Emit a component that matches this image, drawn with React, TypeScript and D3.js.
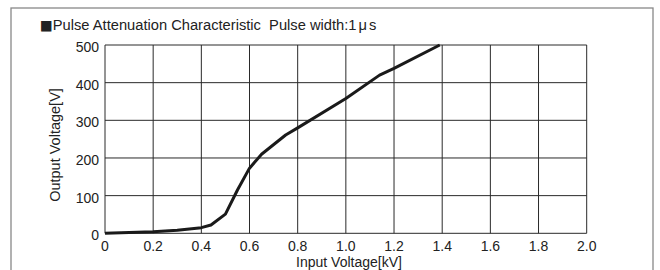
import React from "react";
import * as d3 from "d3";

const inputKV = [0, 0.2, 0.3, 0.4, 0.44, 0.5, 0.55, 0.6, 0.65, 0.75, 0.8, 1.0, 1.14, 1.2, 1.39];
const outputV = [0, 4, 8, 15, 22, 51, 115, 173, 210, 261, 280, 358, 420, 438, 500];
const xTicks = [0, 0.2, 0.4, 0.6, 0.8, 1.0, 1.2, 1.4, 1.6, 1.8, 2.0];
const yTicks = [0, 100, 200, 300, 400, 500];

const W = 660, H = 270;
const L = 105, R = 586.7, T = 45, B = 233.3;

export default function App() {
  const x = d3.scaleLinear().domain([0, 2]).range([L, R]);
  const y = d3.scaleLinear().domain([0, 500]).range([B, T]);
  const pts = inputKV.map((v, i) => [v, outputV[i]] as [number, number]);
  const line = d3.line<[number, number]>().x(d => x(d[0])).y(d => y(d[1]));
  const font = "'Liberation Sans', Arial, sans-serif";
  return (
    <svg width={W} height={H} style={{ position: "absolute", left: 0, top: 0, background: "#fff" }} fontFamily={font}>
      <rect x={11} y={8} width={642} height={300} fill="none" stroke="#888" strokeWidth={1.3} />
      <text x={40} y={30} fontSize={14.7} fill="#222" style={{ whiteSpace: "pre" }}>
        <tspan fontFamily="'DejaVu Sans'" fontSize={13.5}>■</tspan>
        <tspan>{"Pulse Attenuation Characteristic  Pulse width:1"}</tspan>
        <tspan dx={2}>μ</tspan>
        <tspan dx={2}>s</tspan>
      </text>
      {xTicks.map(t => (
        <line key={"vx" + t} x1={x(t)} x2={x(t)} y1={T} y2={B} stroke="#2a2a2a" strokeWidth={1} />
      ))}
      {yTicks.map(t => (
        <line key={"hy" + t} x1={L} x2={R} y1={y(t)} y2={y(t)} stroke="#2a2a2a" strokeWidth={1} />
      ))}
      {xTicks.map(t => (
        <text key={"xt" + t} x={x(t)} y={251} fontSize={14} textAnchor="middle" fill="#222">
          {t === 0 ? "0" : t.toFixed(1)}
        </text>
      ))}
      {yTicks.map(t => (
        <text key={"yt" + t} x={99} y={y(t) + 7} fontSize={14} textAnchor="end" fill="#222">{t}</text>
      ))}
      <text x={349} y={266.8} fontSize={14} textAnchor="middle" fill="#222">Input Voltage[kV]</text>
      <text transform={`translate(60,145) rotate(-90)`} fontSize={14.5} textAnchor="middle" fill="#222">Output Voltage[V]</text>
      <path d={line(pts) || ""} fill="none" stroke="#1a1a1a" strokeWidth={3} strokeLinejoin="round" />
    </svg>
  );
}
